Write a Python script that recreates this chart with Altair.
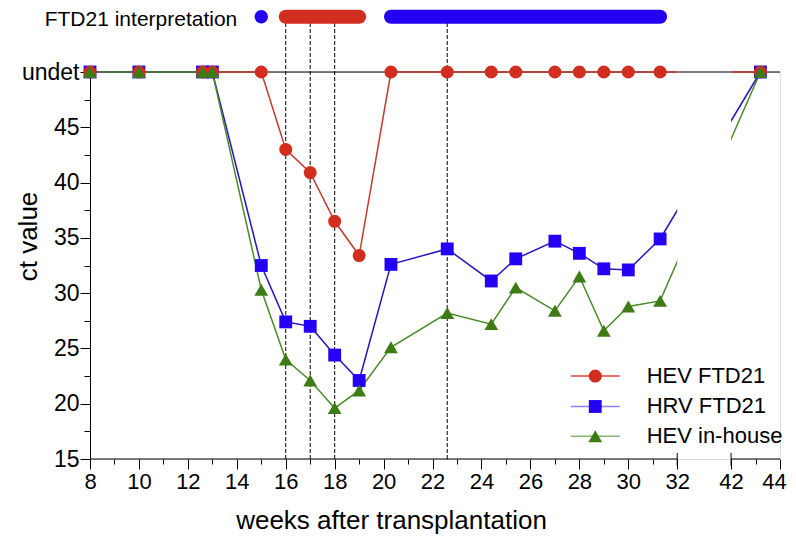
import altair as alt
import pandas as pd

# ---------------- data ----------------
weeks = [8, 10, 12.6, 13, 15, 16, 17, 18, 19, 20.3, 22.6, 24.4, 25.4, 27, 28, 29, 30, 31.3, 43.2]
hev_ftd21 = [50, 50, 50, 50, 50, 43.0, 40.9, 36.5, 33.4, 50, 50, 50, 50, 50, 50, 50, 50, 50, 50]
hrv_ftd21 = [50, 50, 50, 50, 32.5, 27.4, 27.0, 24.4, 22.1, 32.6, 34.0, 31.1, 33.1, 34.7, 33.6, 32.2, 32.1, 34.9, 50]
hev_inhouse = [50, 50, 50, 50, 30.3, 24.0, 22.1, 19.6, 21.2, 25.1, 28.2, 27.2, 30.5, 28.4, 31.5, 26.6, 28.8, 29.3, 50]
series_names = ["HEV FTD21", "HRV FTD21", "HEV in-house"]

x_tick_weeks = list(range(8, 33)) + [42, 43, 44]
y_tick_values = [15, 17.5, 20, 22.5, 25, 27.5, 30, 32.5, 35, 37.5, 40, 42.5, 45, 47.5, 50]
undet_label = "undet"

dashed_weeks = [16, 17, 18, 22.6]
interp_label = "FTD21 interpretation"
interp_dot_weeks = [15]
interp_dot_series = ["HRV FTD21"]
interp_bar_start = [16, 20.3]
interp_bar_end = [19, 31.3]
interp_bar_series = ["HEV FTD21", "HRV FTD21"]

# ---------------- layout / style constants ----------------
BREAK_LO, BREAK_HI, GAP = 32, 42, 2.2
X_MIN, X_MAX = 8, 44
Y_MIN, UNDET, INTERP_Y = 15, 50, 55
FONT = "Liberation Sans"

marker_color = {"HEV FTD21": "#d22e1f", "HRV FTD21": "#2400f5", "HEV in-house": "#3d7c14"}
line_color = {"HEV FTD21": "#c43a2a", "HRV FTD21": "#2a14c0", "HEV in-house": "#4a8a28"}
legend_line_color = {"HEV FTD21": "#e04030", "HRV FTD21": "#8c80ff", "HEV in-house": "#86b474"}
shape = {"HEV FTD21": "circle", "HRV FTD21": "square", "HEV in-house": "triangle-up"}
msize = {"HEV FTD21": 170, "HRV FTD21": 165, "HEV in-house": 190}

LEG_X0, LEG_X1, LEG_XM, LEG_XT = 27.65, 29.65, 28.65, 30.75
LEG_Y = [22.5, 19.75, 17.05]


def to_axis(w):
    return w if w <= BREAK_LO else w - BREAK_HI + BREAK_LO + GAP


def calc(field):
    return (f"datum.{field} <= {BREAK_LO} ? datum.{field} : "
            f"datum.{field} - {BREAK_HI} + {BREAK_LO + GAP}")


back = f"round(datum.value <= {BREAK_LO} ? datum.value : datum.value + {BREAK_HI - BREAK_LO - GAP})"

x_scale = alt.Scale(domain=[to_axis(X_MIN), to_axis(X_MAX)], nice=False, zero=False)
y_scale = alt.Scale(domain=[Y_MIN, UNDET], nice=False, zero=False)

x_axis = alt.Axis(
    values=[to_axis(w) for w in x_tick_weeks],
    labelExpr=f"{back} % 2 === 0 ? {back} + '' : ''",
    tickSize={"condition": {"test": f"{back} % 2 === 0", "value": 10}, "value": 5},
    labelOffset={"condition": {"test": f"{back} === {X_MAX}", "value": -6}, "value": 0},
    domain=False, grid=False, tickColor="black", tickWidth=1,
    labelFont=FONT, labelFontSize=22, labelColor="black", labelPadding=2,
    labelFlush=False, labelOverlap=False,
    title="weeks after transplantation", titleFont=FONT, titleFontSize=26,
    titleFontWeight="normal", titleColor="black", titleX=301, titleY=61,
    titleBaseline="middle",
)
y_axis = alt.Axis(
    values=y_tick_values,
    labelExpr=f"datum.value === {UNDET} ? '{undet_label}' : (datum.value % 5 === 0 ? datum.label : '')",
    tickSize={"condition": {"test": "datum.value % 5 === 0", "value": 10}, "value": 6},
    domain=True, domainColor="black", grid=False, tickColor="black", tickWidth=1,
    labelFont=FONT, labelFontSize=23, labelColor="black", labelPadding=1,
    labelFlush=False, labelOverlap=False,
    title="ct value", titleFont=FONT, titleFontSize=26, titleFontWeight="normal",
    titleColor="black", titleX=-62, titleY=164, titleBaseline="middle", titleAngle=270,
)


def X(field):
    return alt.X(f"{field}:Q", scale=x_scale, axis=x_axis)


def X2(field):
    return alt.X2(f"{field}:Q")


def Y(field):
    return alt.Y(f"{field}:Q", scale=y_scale, axis=y_axis)


# ---------------- tables ----------------
series_values = {"HEV FTD21": hev_ftd21, "HRV FTD21": hrv_ftd21, "HEV in-house": hev_inhouse}
long_df = pd.DataFrame(
    [{"week": w, "ct": v, "series": s} for s in series_names for w, v in zip(weeks, series_values[s])]
)

undet_df = pd.DataFrame({"w0": [X_MIN], "w1": [X_MAX], "ct": [UNDET]})
gap_undet_df = pd.DataFrame({"w0": [BREAK_LO], "w1": [BREAK_HI], "ct": [UNDET]})
gap_df = pd.DataFrame({"w0": [BREAK_LO], "w1": [BREAK_HI], "c0": [Y_MIN + 0.15], "c1": [UNDET + 1]})
axis_df = pd.DataFrame({"w0": [X_MIN, BREAK_HI], "w1": [BREAK_LO, X_MAX], "ct": [Y_MIN, Y_MIN]})
caps_df = pd.DataFrame({"week": [BREAK_LO, BREAK_HI], "c0": [Y_MIN - 0.6, Y_MIN - 0.6], "c1": [Y_MIN + 0.55, Y_MIN + 0.55]})
dash_df = pd.DataFrame({"week": dashed_weeks, "c0": [Y_MIN] * len(dashed_weeks), "c1": [INTERP_Y] * len(dashed_weeks)})
bar_df = pd.DataFrame({"w0": interp_bar_start, "w1": interp_bar_end, "series": interp_bar_series, "ct": [INTERP_Y] * 2})
dot_df = pd.DataFrame({"week": interp_dot_weeks, "series": interp_dot_series, "ct": [INTERP_Y]})
label_df = pd.DataFrame({"week": [interp_dot_weeks[0]], "ct": [INTERP_Y], "text": [interp_label]})
leg_df = pd.DataFrame({"series": series_names, "ct": LEG_Y, "w0": [LEG_X0] * 3, "w1": [LEG_X1] * 3,
                       "wm": [LEG_XM] * 3, "wt": [LEG_XT] * 3})

layers = []

# black "undet" baseline
layers.append(alt.Chart(undet_df).mark_rule(color="black", strokeWidth=1.2)
              .transform_calculate(xp=calc("w0"), xp2=calc("w1"))
              .encode(x=X("xp"), x2=X2("xp2"), y=Y("ct")))

# dashed vertical lines
layers.append(alt.Chart(dash_df).mark_rule(color="black", strokeWidth=1, strokeDash=[4, 2])
              .transform_calculate(xp=calc("week"))
              .encode(x=X("xp"), y=Y("c0"), y2=alt.Y2("c1")))

# series lines
for s in series_names:
    sub = long_df[long_df.series == s]
    layers.append(alt.Chart(sub).mark_line(color=line_color[s], strokeWidth=1.5)
                  .transform_calculate(xp=calc("week"))
                  .encode(x=X("xp"), y=Y("ct"), order="week:Q"))

# hide the axis break
layers.append(alt.Chart(gap_df).mark_rect(color="white")
              .transform_calculate(xp=calc("w0"), xp2=calc("w1"))
              .encode(x=X("xp"), x2=X2("xp2"), y=Y("c0"), y2=alt.Y2("c1")))
layers.append(alt.Chart(gap_undet_df).mark_rule(color="black", strokeWidth=1.2)
              .transform_calculate(xp=calc("w0"), xp2=calc("w1"))
              .encode(x=X("xp"), x2=X2("xp2"), y=Y("ct")))

# broken x axis line
layers.append(alt.Chart(axis_df).mark_rule(color="black", strokeWidth=1)
              .transform_calculate(xp=calc("w0"), xp2=calc("w1"))
              .encode(x=X("xp"), x2=X2("xp2"), y=Y("ct")))
layers.append(alt.Chart(caps_df).mark_rule(color="black", strokeWidth=1)
              .transform_calculate(xp=calc("week"))
              .encode(x=X("xp"), y=Y("c0"), y2=alt.Y2("c1")))

# markers (square under circle under triangle)
for s in ["HRV FTD21", "HEV FTD21", "HEV in-house"]:
    sub = long_df[long_df.series == s]
    layers.append(alt.Chart(sub).mark_point(shape=shape[s], filled=True, opacity=1,
                                            color=marker_color[s], size=msize[s])
                  .transform_calculate(xp=calc("week"))
                  .encode(x=X("xp"), y=Y("ct")))

# FTD21 interpretation row
interp_scale = alt.Scale(domain=series_names, range=[marker_color[s] for s in series_names])
layers.append(alt.Chart(bar_df).mark_rule(strokeWidth=14, strokeCap="round")
              .transform_calculate(xp=calc("w0"), xp2=calc("w1"))
              .encode(x=X("xp"), x2=X2("xp2"), y=Y("ct"),
                      color=alt.Color("series:N", scale=interp_scale, legend=None)))
layers.append(alt.Chart(dot_df).mark_circle(size=180, opacity=1)
              .transform_calculate(xp=calc("week"))
              .encode(x=X("xp"), y=Y("ct"),
                      color=alt.Color("series:N", scale=interp_scale, legend=None)))
layers.append(alt.Chart(label_df).mark_text(font=FONT, fontSize=21, align="right", baseline="middle",
                                            dx=-24, dy=3.5, color="black")
              .transform_calculate(xp=calc("week"))
              .encode(x=X("xp"), y=Y("ct"), text="text:N"))

# legend drawn inside the plot
for i, s in enumerate(series_names):
    row = leg_df[leg_df.series == s]
    layers.append(alt.Chart(row).mark_rule(color=legend_line_color[s], strokeWidth=1.5)
                  .transform_calculate(xp=calc("w0"), xp2=calc("w1"))
                  .encode(x=X("xp"), x2=X2("xp2"), y=Y("ct")))
    layers.append(alt.Chart(row).mark_point(shape=shape[s], filled=True, opacity=1,
                                            color=marker_color[s], size=msize[s])
                  .transform_calculate(xp=calc("wm"))
                  .encode(x=X("xp"), y=Y("ct")))
    layers.append(alt.Chart(row).mark_text(font=FONT, fontSize=22, align="left", baseline="middle",
                                           color="black")
                  .transform_calculate(xp=calc("wt"))
                  .encode(x=X("xp"), y=Y("ct"), text="series:N"))

chart = alt.layer(*layers).properties(
    width=690, height=387,
    autosize=alt.AutoSizeParams(type="none"),
    padding={"left": 82, "top": 64, "right": 8, "bottom": 75},
).configure_view(stroke=None).configure(background="white")

chart.save("out.html", embed_options={"renderer": "svg", "actions": False})
